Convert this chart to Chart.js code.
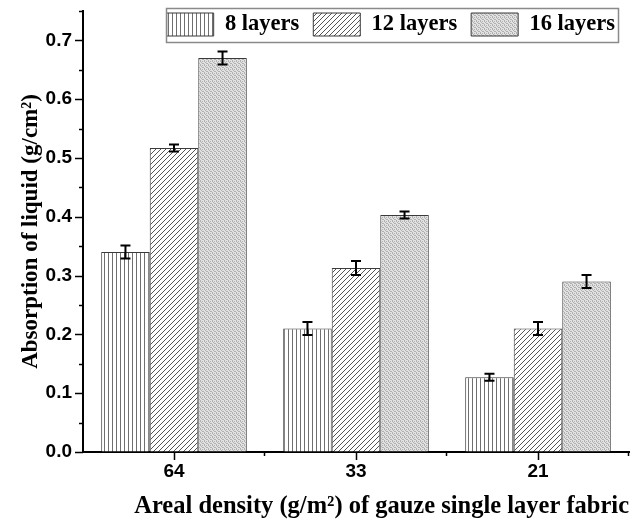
<!DOCTYPE html>
<html>
<head>
<meta charset="utf-8">
<script src="https://cdn.jsdelivr.net/npm/chart.js@4.4.1/dist/chart.umd.min.js"></script>
<style>
  html, body { margin: 0; padding: 0; background: #fff; }
  #wrap { width: 632px; height: 526px; }
</style>
</head>
<body>
<div id="wrap"><canvas id="c" width="632" height="526"></canvas></div>
<script>
const categories = ['64', '33', '21'];
const seriesNames = ['8 layers', '12 layers', '16 layers'];
const layers8 = [0.340, 0.210, 0.127];
const layers12 = [0.517, 0.313, 0.210];
const layers16 = [0.670, 0.403, 0.290];
const err8 = [0.011, 0.011, 0.006];
const err12 = [0.006, 0.012, 0.011];
const err16 = [0.011, 0.006, 0.011];
const yTickStep = 0.1;
const yMax = 0.75;

function makePattern(kind) {
  const c = document.createElement('canvas');
  let ctx;
  if (kind === 'vertical') {
    c.width = 4; c.height = 4;
    ctx = c.getContext('2d');
    ctx.fillStyle = '#fff'; ctx.fillRect(0, 0, 4, 4);
    ctx.fillStyle = '#707070'; ctx.fillRect(0, 0, 1, 4);
  } else if (kind === 'diag') {
    const s = 5;
    c.width = s; c.height = s;
    ctx = c.getContext('2d');
    ctx.fillStyle = '#fff'; ctx.fillRect(0, 0, s, s);
    ctx.strokeStyle = '#555'; ctx.lineWidth = 1;
    ctx.beginPath();
    ctx.moveTo(-1, s + 1); ctx.lineTo(s + 1, -1);
    ctx.moveTo(-1, 1); ctx.lineTo(1, -1);
    ctx.moveTo(s - 1, s + 1); ctx.lineTo(s + 1, s - 1);
    ctx.stroke();
  } else {
    c.width = 4; c.height = 4;
    ctx = c.getContext('2d');
    ctx.fillStyle = '#e2e2e2'; ctx.fillRect(0, 0, 4, 4);
    ctx.fillStyle = '#b0b0b0';
    [[0,0],[2,1],[1,2],[3,3],[2,3],[0,1]].forEach(p => ctx.fillRect(p[0], p[1], 1, 1));
  }
  const mctx = document.getElementById('c').getContext('2d');
  return mctx.createPattern(c, 'repeat');
}

const patterns = [makePattern('vertical'), makePattern('diag'), makePattern('dots')];
const values = [layers8, layers12, layers16];
const errors = [err8, err12, err16];

const errorBarPlugin = {
  id: 'errorBars',
  afterDatasetsDraw(chart) {
    const ctx = chart.ctx;
    const y = chart.scales.y;
    ctx.save();
    ctx.strokeStyle = '#000';
    ctx.lineWidth = 2;
    chart.data.datasets.forEach((ds, di) => {
      const meta = chart.getDatasetMeta(di);
      meta.data.forEach((bar, i) => {
        const v = ds.data[i];
        const e = errors[di][i];
        const yt = y.getPixelForValue(v + e);
        const yb = y.getPixelForValue(v - e);
        const x = bar.x;
        const cw = 5;
        ctx.beginPath();
        ctx.moveTo(x, yt); ctx.lineTo(x, yb);
        ctx.moveTo(x - cw, yt); ctx.lineTo(x + cw, yt);
        ctx.moveTo(x - cw, yb); ctx.lineTo(x + cw, yb);
        ctx.stroke();
      });
    });
    ctx.restore();
  }
};

const tickPlugin = {
  id: 'tickMarks',
  afterLayout(chart) {
    const lg = chart.legend;
    if (lg) {
      const h = lg.height;
      lg.top = -1;
      lg.bottom = -1 + h;
    }
  },
  afterDraw(chart) {
    const ctx = chart.ctx;
    const ys = chart.scales.y, xs = chart.scales.x;
    const area = chart.chartArea;
    ctx.save();
    ctx.strokeStyle = '#000';
    ctx.lineWidth = 1.5;
    ctx.beginPath();
    for (let k = 0; k * 0.05 <= yMax + 1e-9; k++) {
      const py = Math.round(ys.getPixelForValue(k * 0.05)) + 0.5;
      const len = (k % 2 === 0) ? 8 : 4;
      ctx.moveTo(area.left - len, py); ctx.lineTo(area.left, py);
    }
    const half = (xs.getPixelForValue(1) - xs.getPixelForValue(0)) / 2;
    categories.forEach((c, i) => {
      const px = Math.round(xs.getPixelForValue(i)) + 0.5;
      ctx.moveTo(px, area.bottom); ctx.lineTo(px, area.bottom + 8);
      const bx = Math.round(xs.getPixelForValue(i) + half) - 0.5;
      ctx.moveTo(bx, area.bottom); ctx.lineTo(bx, area.bottom + 4);
    });
    ctx.stroke();
    const lg = chart.legend;
    if (lg && lg.legendHitBoxes && lg.legendHitBoxes.length) {
      const hb = lg.legendHitBoxes;
      const l = hb[0].left - 1;
      const r = hb[hb.length - 1].left + hb[hb.length - 1].width + 3;
      ctx.strokeStyle = '#8a8a8a';
      ctx.lineWidth = 1.5;
      ctx.strokeRect(Math.round(l) + 0.5, 8.5, Math.round(r - l), 34);
    }
    ctx.restore();
  }
};

new Chart(document.getElementById('c'), {
  type: 'bar',
  data: {
    labels: categories,
    datasets: seriesNames.map((name, i) => ({
      label: name,
      data: values[i],
      backgroundColor: patterns[i],
      borderColor: '#3a3a3a',
      borderWidth: 1,
      categoryPercentage: 0.8,
      barPercentage: 1.0
    }))
  },
  options: {
    responsive: false,
    animation: false,
    devicePixelRatio: 1,
    layout: { padding: { top: -36, right: 3, left: 0, bottom: 0 } },
    plugins: {
      legend: {
        position: 'top',
        align: 'end',
        labels: {
          boxWidth: 47,
          boxHeight: 23,
          padding: 14,
          color: '#000',
          font: { family: "'Liberation Serif', 'Times New Roman', serif", weight: 'bold', size: 22.5 }
        }
      },
      tooltip: { enabled: false }
    },
    scales: {
      x: {
        grid: { display: true, drawOnChartArea: false, drawTicks: false },
        border: { display: true, color: '#000', width: 2 },
        ticks: {
          color: '#000',
          padding: 8,
          font: { family: "'Liberation Sans', Arial, sans-serif", weight: 'bold', size: 19 }
        },
        title: {
          display: true,
          align: 'end',
          text: 'Areal density (g/m²) of gauze single layer fabric',
          color: '#000',
          padding: { top: 0, bottom: 5 },
          font: { family: "'Liberation Serif', 'Times New Roman', serif", weight: 'bold', size: 24.5 }
        },
        afterFit(scale) { scale.height = 74; }
      },
      y: {
        min: 0,
        max: yMax,
        grid: { display: true, drawOnChartArea: false, drawTicks: false },
        border: { display: true, color: '#000', width: 2 },
        ticks: {
          stepSize: yTickStep,
          includeBounds: false,
          color: '#000',
          padding: 11,
          font: { family: "'Liberation Sans', Arial, sans-serif", weight: 'bold', size: 19 },
          callback: (v) => Number(v).toFixed(1)
        },
        title: {
          display: true,
          text: 'Absorption of liquid (g/cm²)',
          color: '#000',
          padding: { top: 17, bottom: 0 },
          font: { family: "'Liberation Serif', 'Times New Roman', serif", weight: 'bold', size: 23 }
        },
        afterFit(scale) { scale.width = 83; scale.paddingTop = 0; scale.paddingBottom = 0; }
      }
    }
  },
  plugins: [errorBarPlugin, tickPlugin]
});
</script>
</body>
</html>
